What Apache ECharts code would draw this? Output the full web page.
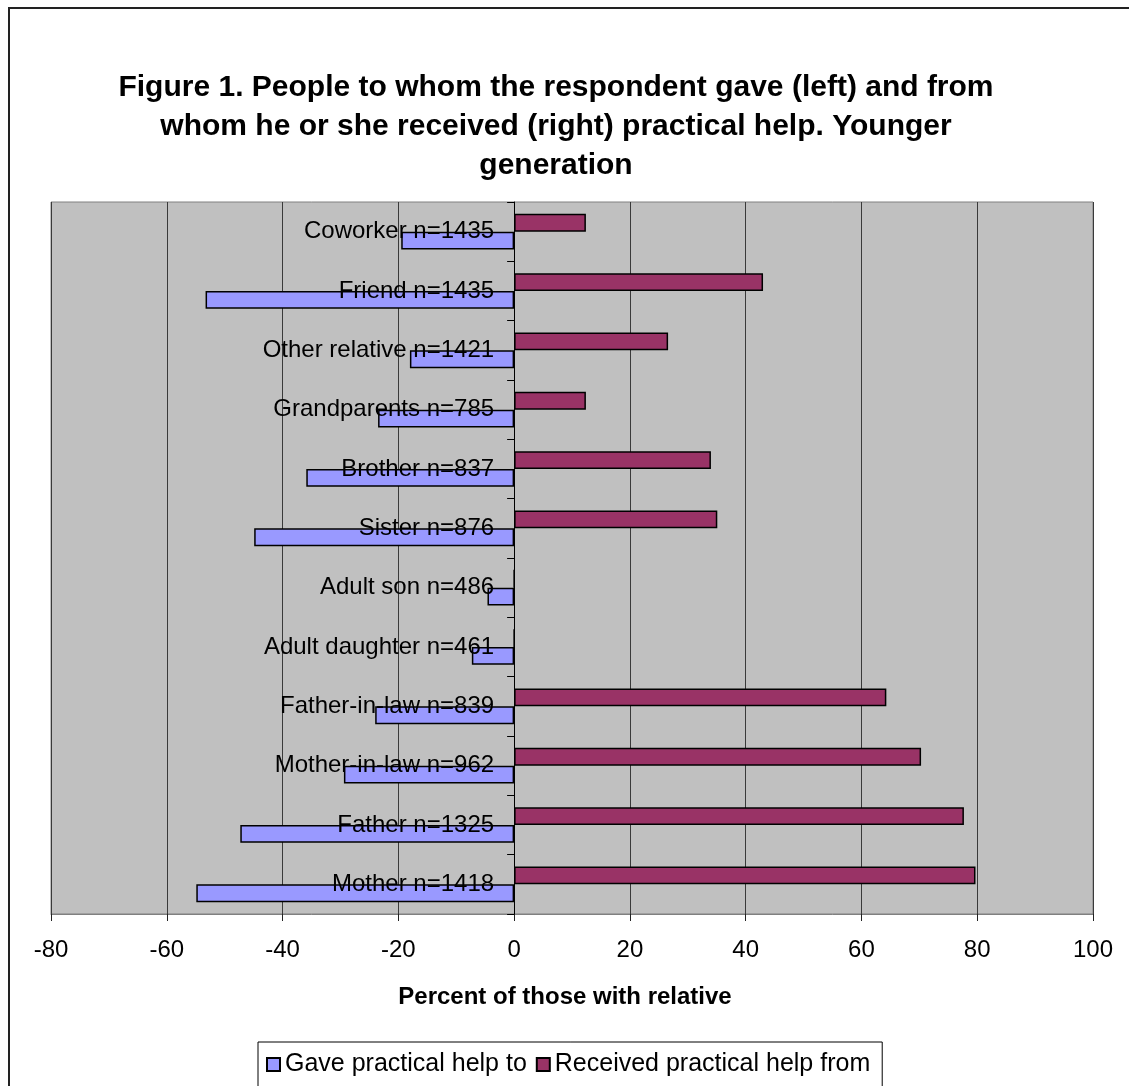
<!DOCTYPE html>
<html>
<head>
<meta charset="utf-8">
<title>Practical help given and received</title>
<script src="https://cdn.jsdelivr.net/npm/echarts@6/dist/echarts.min.js"></script>
<style>
  html, body { margin: 0; padding: 0; background: #ffffff; }
  #chart { width: 1129px; height: 1086px; }
</style>
</head>
<body>
<div id="chart"></div>
<script>
// Relatives, listed bottom to top on the category axis
const categories = [
  'Mother n=1418', 'Father n=1325', 'Mother-in-law n=962', 'Father-in-law n=839',
  'Adult daughter n=461', 'Adult son n=486', 'Sister n=876', 'Brother n=837',
  'Grandparents n=785', 'Other relative n=1421', 'Friend n=1435', 'Coworker n=1435'
];

// Percent who gave help (drawn to the left, hence negative)
const gaveHelp = [-54.9, -47.3, -29.4, -24.0, -7.3, -4.6, -44.9, -35.9, -23.5, -18.0, -53.3, -19.5];

// Percent who received help (drawn to the right)
const receivedHelp = [79.7, 77.7, 70.3, 64.3, 0, 0, 35.1, 34.0, 12.4, 26.6, 43.0, 12.4];

// Value-axis range and step
const axisMin = -80;
const axisMax = 100;
const axisStep = 20;

const titleText = 'Figure 1. People to whom the respondent gave (left) and from\nwhom he or she received (right) practical help. Younger\ngeneration';
const axisTitle = 'Percent of those with relative';
const seriesNames = ['Gave practical help to', 'Received practical help from'];

const font = "'Liberation Sans', Arial, sans-serif";

// Plot rectangle inside the 1129 x 1086 canvas
const plot = { left: 51, right: 36, top: 202, bottom: 172 };
const plotWidth = 1129 - plot.left - plot.right;
// Shift the category axis from the plot's left edge to the value 0
const zeroShift = (0 - axisMin) / (axisMax - axisMin) * plotWidth;

const chart = echarts.init(document.getElementById('chart'), null, { renderer: 'canvas' });

chart.setOption({
  animation: false,
  backgroundColor: '#ffffff',
  graphic: [{
    type: 'rect',
    silent: true,
    shape: { x: 9, y: 8, width: 1140, height: 1100 },
    style: { fill: 'none', stroke: '#222222', lineWidth: 2 }
  }],
  title: {
    text: titleText,
    left: 551,
    top: 63,
    textAlign: 'center',
    textStyle: {
      fontFamily: font,
      fontWeight: 'bold',
      fontSize: 30,
      lineHeight: 39,
      color: '#000000'
    }
  },
  legend: {
    left: 258,
    top: 1042,
    orient: 'horizontal',
    padding: [10, 12, 40, 8],
    itemGap: 9,
    itemWidth: 13,
    itemHeight: 13,
    icon: 'rect',
    borderColor: '#000000',
    borderWidth: 1,
    textStyle: { fontFamily: font, fontSize: 25, color: '#000000' },
    data: seriesNames
  },
  grid: {
    left: plot.left,
    right: plot.right,
    top: plot.top,
    bottom: plot.bottom,
    show: true,
    backgroundColor: '#c0c0c0',
    borderColor: '#808080',
    borderWidth: 1,
    outerBoundsMode: 'none',
    containLabel: false
  },
  xAxis: {
    type: 'value',
    min: axisMin,
    max: axisMax,
    interval: axisStep,
    name: axisTitle,
    nameLocation: 'middle',
    nameGap: 71,
    nameTextStyle: { fontFamily: font, fontWeight: 'bold', fontSize: 24, color: '#000000', padding: [0, 14, 0, 0] },
    axisLine: { show: true, lineStyle: { color: '#808080', width: 1 } },
    axisTick: { show: true, length: 7, inside: false, lineStyle: { color: '#222222' } },
    axisLabel: { fontFamily: font, fontSize: 24, color: '#000000', margin: 24 },
    splitLine: { show: true, lineStyle: { color: '#3a3a3a', width: 1 } }
  },
  yAxis: {
    type: 'category',
    data: categories,
    z: 5,
    offset: -zeroShift,
    axisLine: { show: true, onZero: false, lineStyle: { color: '#000000', width: 1 } },
    axisTick: { show: true, length: 7, inside: false, lineStyle: { color: '#000000' } },
    axisLabel: { fontFamily: font, fontSize: 24, color: '#000000', margin: 20 },
    splitLine: { show: false }
  },
  // Received is listed first so that it sits above the "gave" bar in each band
  series: [
    {
      name: seriesNames[1],
      type: 'bar',
      data: receivedHelp,
      barGap: '0%',
      barCategoryGap: '40%',
      itemStyle: { color: '#993366', borderColor: '#000000', borderWidth: 1.5 }
    },
    {
      name: seriesNames[0],
      type: 'bar',
      data: gaveHelp,
      barGap: '0%',
      barCategoryGap: '40%',
      itemStyle: { color: '#9999ff', borderColor: '#000000', borderWidth: 1.5 }
    }
  ]
});
</script>
</body>
</html>
